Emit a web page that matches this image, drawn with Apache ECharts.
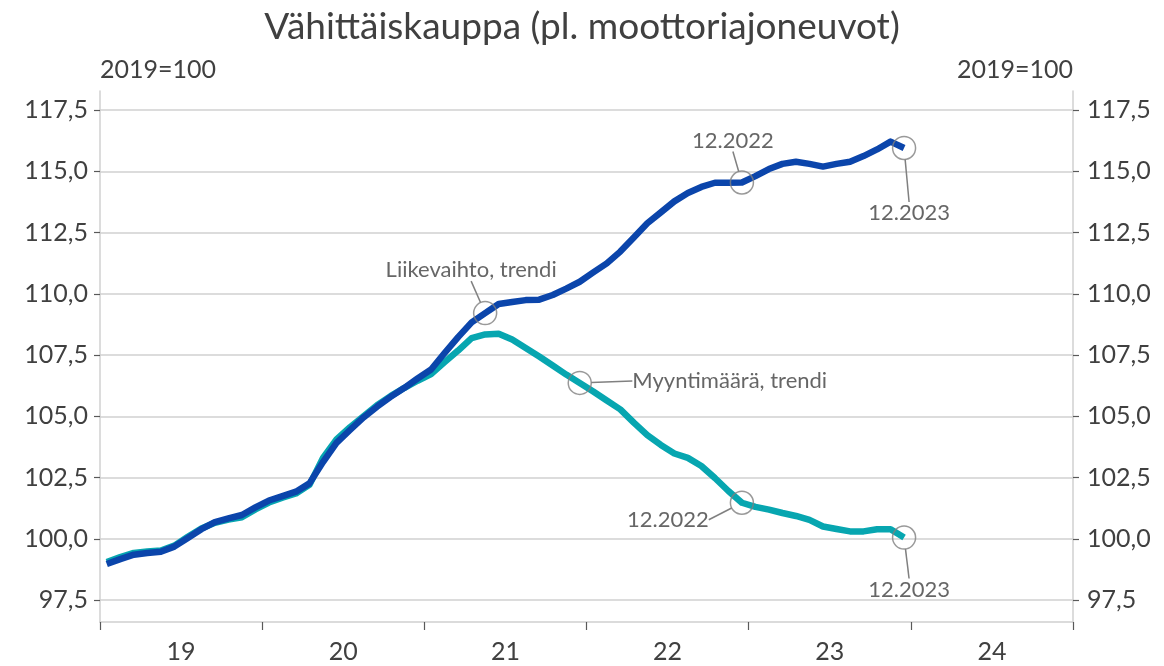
<!DOCTYPE html>
<html>
<head>
<meta charset="utf-8">
<script src="https://cdn.jsdelivr.net/npm/echarts@6/dist/echarts.min.js"></script>
<style>
html,body{margin:0;padding:0;background:#fff;}
#chart{width:1164px;height:666px;}
</style>
</head>
<body>
<div id="chart"></div>
<script>
// ---- Data ----
const years = ['19', '20', '21', '22', '23', '24'];
const title = 'Vähittäiskauppa (pl. moottoriajoneuvot)';
const unitLabel = '2019=100';
const seriesNames = ['Liikevaihto, trendi', 'Myyntimäärä, trendi'];
// Monthly values 1/2019 ... 12/2023
const liikevaihto = [
  98.97, 99.17, 99.35, 99.42, 99.47, 99.68, 100.03, 100.39, 100.68, 100.83, 100.97, 101.28,
  101.56, 101.74, 101.92, 102.26, 103.13, 103.91, 104.44, 104.95, 105.39, 105.79, 106.15, 106.54,
  106.91, 107.58, 108.23, 108.83, 109.21, 109.58, 109.66, 109.74, 109.76, 109.95, 110.21, 110.49,
  110.87, 111.24, 111.72, 112.30, 112.88, 113.32, 113.77, 114.11, 114.36, 114.53, 114.53, 114.54,
  114.80, 115.09, 115.30, 115.39, 115.30, 115.19, 115.30, 115.39, 115.62, 115.89, 116.21, 115.95
];
const myyntimaara = [
  99.05, 99.25, 99.42, 99.48, 99.52, 99.72, 100.08, 100.42, 100.65, 100.78, 100.88, 101.20,
  101.48, 101.68, 101.85, 102.20, 103.30, 104.05, 104.55, 105.00, 105.45, 105.82, 106.15, 106.45,
  106.72, 107.21, 107.68, 108.19, 108.34, 108.37, 108.13, 107.79, 107.44, 107.07, 106.70, 106.36,
  106.01, 105.64, 105.28, 104.74, 104.23, 103.83, 103.48, 103.30, 102.97, 102.48, 101.95, 101.47,
  101.30, 101.19, 101.05, 100.93, 100.77, 100.50, 100.40, 100.30, 100.30, 100.39, 100.39, 100.05
];
// Annotated points: month index, series, text
const annotIndex = [28, 47, 59, 35, 47, 59];
const annotSeries = [0, 0, 0, 1, 1, 1];
const annotText = ['Liikevaihto, trendi', '12.2022', '12.2023', 'Myyntimäärä, trendi', '12.2022', '12.2023'];
const annotDx = [-14, -9, 5, 150, -74, 5];
const annotDy = [-43, -42, 65, -2, 17, 52];

// month categories for the plotting axis (Jan 2019 .. Dec 2024)
const months = [];
years.forEach(y => { for (let m = 1; m <= 12; m++) months.push(m + '.20' + y); });

const FONT = 'Lato';
const TXT = '#404040';
const BLUE = '#0b45ab';
const TEAL = '#07a6b0';
const GRIDC = '#d0d0d0';

const fmt = v => v.toFixed(1).replace('.', ',');
const seriesData = [liikevaihto, myyntimaara];

const annotData = annotIndex.map((idx, k) => ({
  value: [idx, seriesData[annotSeries[k]][idx]],
  label: { formatter: annotText[k] }
}));

const chart = echarts.init(document.getElementById('chart'), null, { renderer: 'canvas' });
chart.setOption({
  animation: false,
  backgroundColor: '#fff',
  textStyle: { fontFamily: FONT, color: TXT },
  title: {
    text: title, left: 'center', top: 4,
    textStyle: { fontFamily: FONT, fontSize: 37, fontWeight: 'normal', color: TXT }
  },
  grid: [
    { left: 100, right: 91, top: 110, bottom: 66 },
    { left: 100, right: 91, top: 91, bottom: 44 }
  ],
  xAxis: [
    { type: 'category', gridIndex: 0, data: months, boundaryGap: true, show: false },
    {
      type: 'category', gridIndex: 1, data: years, boundaryGap: true,
      axisLine: { show: true, lineStyle: { color: GRIDC, width: 1.5 } },
      axisTick: { show: true, length: 8, lineStyle: { color: '#595959', width: 1.2 } },
      axisLabel: { fontFamily: FONT, fontSize: 25, color: TXT, margin: 17 },
      splitLine: { show: false }
    }
  ],
  yAxis: [
    {
      type: 'value', gridIndex: 0, min: 97.5, max: 117.5, interval: 2.5, position: 'left',
      name: unitLabel, nameLocation: 'end', nameGap: 28,
      nameTextStyle: { fontFamily: FONT, fontSize: 25, color: TXT, align: 'left' },
      axisLine: { show: false },
      axisTick: { show: true, length: 6, lineStyle: { color: '#595959', width: 1.2 } },
      axisLabel: { fontFamily: FONT, fontSize: 25, color: TXT, margin: 12, formatter: fmt },
      splitLine: { show: true, lineStyle: { color: GRIDC, width: 1.5 } }
    },
    {
      type: 'value', gridIndex: 0, min: 97.5, max: 117.5, interval: 2.5, position: 'right',
      name: unitLabel, nameLocation: 'end', nameGap: 28,
      nameTextStyle: { fontFamily: FONT, fontSize: 25, color: TXT, align: 'right' },
      axisLine: { show: false },
      axisTick: { show: true, length: 6, lineStyle: { color: '#595959', width: 1.2 } },
      axisLabel: { fontFamily: FONT, fontSize: 25, color: TXT, margin: 14, formatter: fmt },
      splitLine: { show: false }
    },
    {
      type: 'value', gridIndex: 1, position: 'left', min: 0, max: 1,
      axisLine: { show: true, lineStyle: { color: GRIDC, width: 1.5 } },
      axisTick: { show: false }, axisLabel: { show: false }, splitLine: { show: false }
    },
    {
      type: 'value', gridIndex: 1, position: 'right', min: 0, max: 1,
      axisLine: { show: true, lineStyle: { color: GRIDC, width: 1.5 } },
      axisTick: { show: false }, axisLabel: { show: false }, splitLine: { show: false }
    }
  ],
  series: [
    {
      name: seriesNames[1], type: 'line', xAxisIndex: 0, yAxisIndex: 0,
      data: myyntimaara, showSymbol: false, symbol: 'none',
      lineStyle: { color: TEAL, width: 6.5, join: 'round', cap: 'butt' }, z: 3
    },
    {
      name: seriesNames[0], type: 'line', xAxisIndex: 0, yAxisIndex: 0,
      data: liikevaihto, showSymbol: false, symbol: 'none',
      lineStyle: { color: BLUE, width: 6.5, join: 'round', cap: 'butt' }, z: 4
    },
    {
      type: 'scatter', xAxisIndex: 0, yAxisIndex: 0, z: 6,
      symbol: 'circle', symbolSize: 23,
      itemStyle: { color: 'rgba(0,0,0,0)', borderColor: '#808080', borderWidth: 1.5 },
      label: { show: true, position: 'inside', fontFamily: FONT, fontSize: 22, color: TXT },
      labelLine: { show: true, lineStyle: { color: '#808080', width: 1.5 } },
      labelLayout: function (p) {
        return { dx: annotDx[p.dataIndex], dy: annotDy[p.dataIndex] };
      },
      emphasis: { disabled: true },
      data: annotData
    }
  ]
});
</script>
</body>
</html>
